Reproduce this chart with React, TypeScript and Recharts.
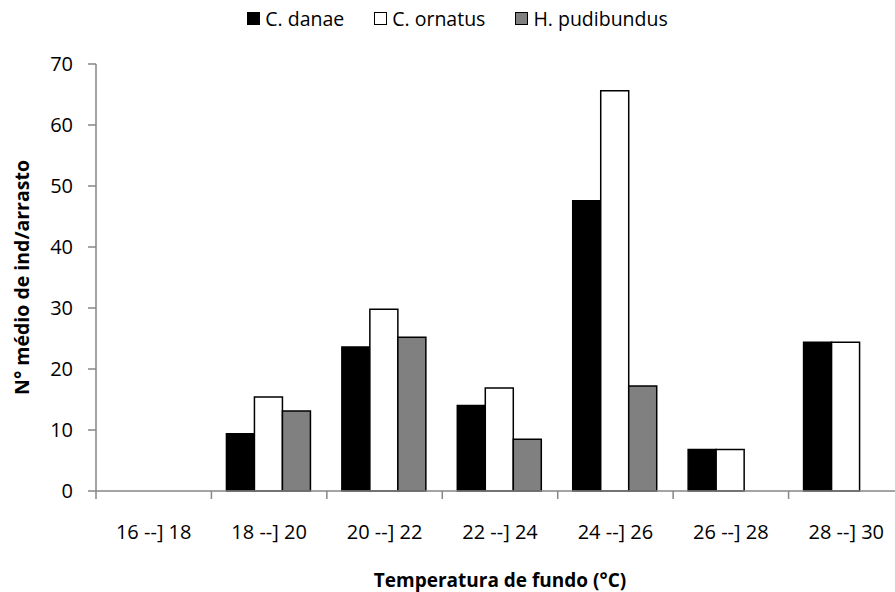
import { BarChart, Bar, XAxis, YAxis, Legend, Label } from "recharts";

const categories = [
  "16 --] 18",
  "18 --] 20",
  "20 --] 22",
  "22 --] 24",
  "24 --] 26",
  "26 --] 28",
  "28 --] 30",
];
const danae = [null, 9.4, 23.6, 14.0, 47.6, 6.8, 24.4];
const ornatus = [null, 15.4, 29.8, 16.9, 65.6, 6.8, 24.4];
const pudibundus = [null, 13.1, 25.2, 8.5, 17.2, null, null];
const yTicks = [0, 10, 20, 30, 40, 50, 60, 70];

const FONT = "'Open Sans', sans-serif";
const AXIS = "#868686";

const data = categories.map((faixa, i) => ({
  faixa,
  danae: danae[i],
  ornatus: ornatus[i],
  pudibundus: pudibundus[i],
}));

const legendItems = [
  { name: "C. danae", fill: "#000000" },
  { name: "C. ornatus", fill: "#ffffff" },
  { name: "H. pudibundus", fill: "#808080" },
];

function LegendBox() {
  return (
    <div
      style={{
        display: "flex",
        justifyContent: "center",
        fontFamily: FONT,
        fontSize: 19.5,
        color: "#000",
      }}
    >
      {legendItems.map((it) => (
        <div
          key={it.name}
          style={{ display: "flex", alignItems: "center", margin: "0 15px" }}
        >
          <span
            style={{
              display: "inline-block",
              width: 11,
              height: 11,
              background: it.fill,
              border: "1px solid #000",
              marginRight: 5,
            }}
          />
          <span>{it.name}</span>
        </div>
      ))}
    </div>
  );
}

// label no centro da faixa + traço na borda esquerda (estilo Excel)
function CategoryTick(props: any) {
  const { x, y, payload } = props;
  const half = payload?.offset ?? 57.7;
  return (
    <g>
      <line x1={x - half} y1={y} x2={x - half} y2={y + 8} stroke={AXIS} strokeWidth={1.5} />
      <text
        x={x}
        y={y + 48}
        textAnchor="middle"
        fontFamily={FONT}
        fontSize={20}
        fill="#000"
      >
        {payload.value}
      </text>
    </g>
  );
}

export default function App() {
  return (
    <div
      style={{
        position: "absolute",
        left: 0,
        top: 0,
        width: 895,
        height: 592,
        overflow: "hidden",
        background: "#fff",
      }}
    >
      <BarChart
        width={920}
        height={592}
        data={data}
        margin={{ top: 28, right: 16, left: 0, bottom: 0 }}
        barGap={0}
        barCategoryGap="13%"
      >
        <Legend
          verticalAlign="top"
          height={36}
          wrapperStyle={{ top: 5, left: 0, width: 915 }}
          content={() => <LegendBox />}
        />
        <XAxis
          dataKey="faixa"
          height={101}
          stroke={AXIS}
          strokeWidth={1.5}
          tickLine={false}
          tickSize={0}
          tickMargin={0}
          interval={0}
          tick={<CategoryTick />}
        >
          <Label
            value="Temperatura de fundo (°C)"
            position="insideBottom"
            offset={5}
            style={{ fontFamily: FONT, fontSize: 19, fontWeight: 700, fill: "#000" }}
          />
        </XAxis>
        <YAxis
          width={96}
          domain={[0, 70]}
          ticks={yTicks}
          interval={0}
          stroke={AXIS}
          strokeWidth={1.5}
          tickSize={8}
          tickMargin={15}
          tick={{ fontFamily: FONT, fontSize: 20, fill: "#000" }}
        >
          <Label
            value="N° médio de ind/arrasto"
            angle={-90}
            position="insideLeft"
            offset={22}
            style={{
              fontFamily: FONT,
              fontSize: 19.5,
              fontWeight: 700,
              fill: "#000",
              textAnchor: "middle",
            }}
          />
        </YAxis>
        <Bar dataKey="danae" name="C. danae" fill="#000000" stroke="#000" strokeWidth={1.5} isAnimationActive={false} />
        <Bar dataKey="ornatus" name="C. ornatus" fill="#ffffff" stroke="#000" strokeWidth={1.5} isAnimationActive={false} />
        <Bar dataKey="pudibundus" name="H. pudibundus" fill="#808080" stroke="#000" strokeWidth={1.5} isAnimationActive={false} />
      </BarChart>
    </div>
  );
}
